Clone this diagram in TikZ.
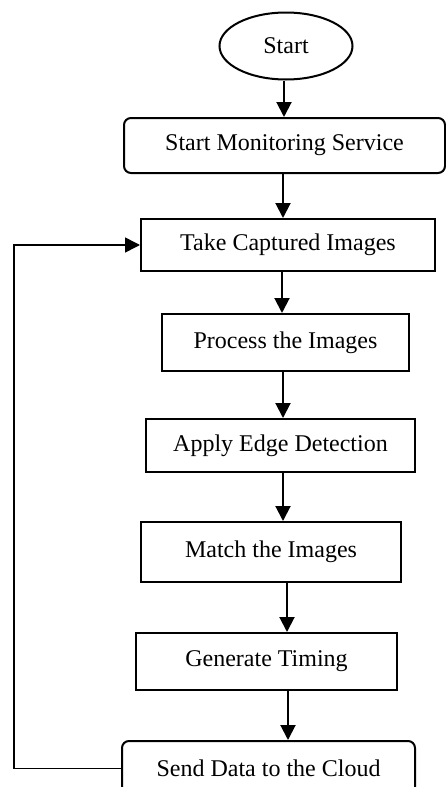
\documentclass[tikz,border=0pt]{standalone}
\usepackage{fontspec}
\setmainfont{Liberation Serif}
\usetikzlibrary{arrows.meta,shapes.geometric}
\tikzset{
  every node/.style={font=\fontsize{24}{28}\selectfont, inner sep=0pt},
  box/.style={draw, line width=2pt, rectangle},
  rbox/.style={box, rounded corners=7pt},
  oval/.style={draw, line width=2pt, ellipse},
  arr/.style={line width=2pt, -{Triangle[width=15pt,length=15pt]}},
  fb/.style={line width=1.5pt, -{Triangle[width=15pt,length=15pt]}}
}
\begin{document}
\begin{tikzpicture}[x=1pt,y=-1pt]
\useasboundingbox (0,0) rectangle (446,787);
\clip (0,0) rectangle (446,787);
\node[oval, minimum width=133pt, minimum height=67pt] (start) at (286,46) {Start};
\node[rbox, minimum width=321pt, minimum height=55pt] (mon) at (284.5,145.5) {Start Monitoring Service};
\node[box, minimum width=294pt, minimum height=52pt] (take) at (288,245) {Take Captured Images};
\node[box, minimum width=247pt, minimum height=57pt] (proc) at (285.5,342.5) {Process the Images};
\node[box, minimum width=269pt, minimum height=53pt] (edge) at (280.5,445.5) {Apply Edge Detection};
\node[box, minimum width=260pt, minimum height=60pt] (match) at (271,552) {Match the Images};
\node[box, minimum width=261pt, minimum height=57pt] (gen) at (266.5,661.5) {Generate Timing};
\node[rbox, minimum width=293pt, minimum height=55pt] (send) at (268.5,768.5) {Send Data to the Cloud};
\coordinate (corner) at (14,768.5);
\draw[arr] (284,0 |- start.south) -- (284,0 |- mon.north);
\draw[arr] (283,0 |- mon.south) -- (283,0 |- take.north);
\draw[arr] (282,0 |- take.south) -- (282,0 |- proc.north);
\draw[arr] (283,0 |- proc.south) -- (283,0 |- edge.north);
\draw[arr] (283,0 |- edge.south) -- (283,0 |- match.north);
\draw[arr] (287,0 |- match.south) -- (287,0 |- gen.north);
\draw[arr] (288,0 |- gen.south) -- (288,0 |- send.north);
\draw[fb] (send.west) -- (corner) |- (take.west);
\end{tikzpicture}
\end{document}
